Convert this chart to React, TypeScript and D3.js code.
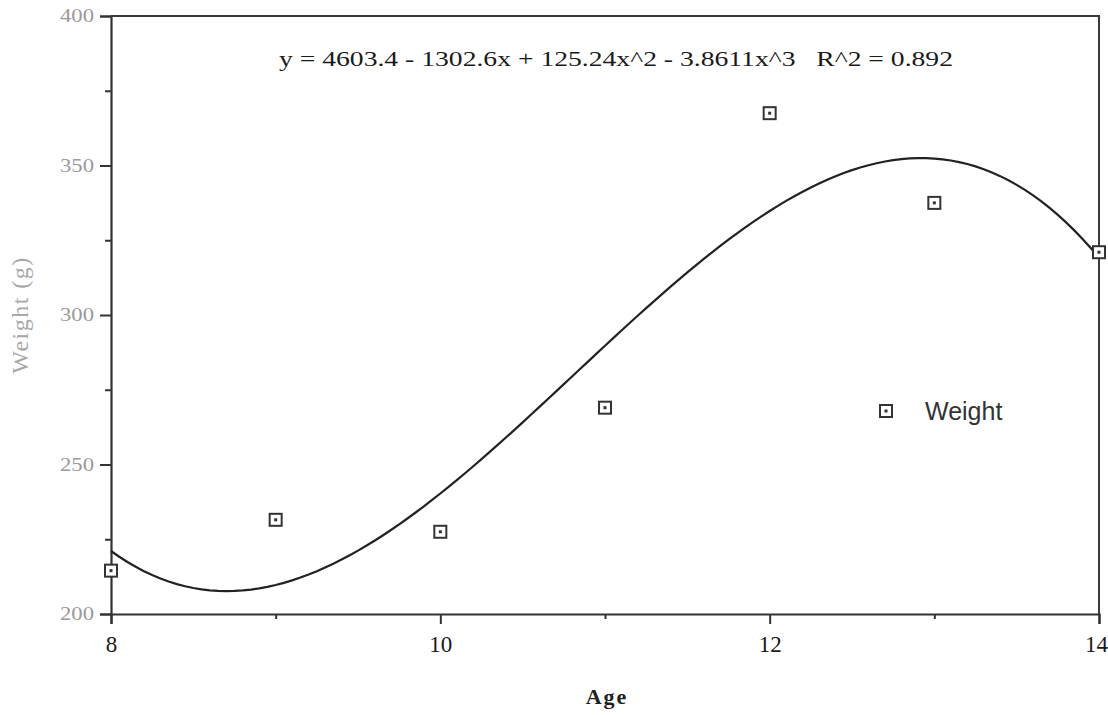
import React, { useEffect, useRef } from 'react';
import * as d3 from 'd3';

// observed points (age, weight in g)
const ages = [8, 9, 10, 11, 12, 13, 14];
const weights = [214.5, 231.5, 227.5, 269, 367.5, 337.5, 321];
// cubic trendline coefficients as printed on the chart: c0 + c1 x + c2 x^2 + c3 x^3
const fitCoefs = [4603.4, -1302.6, 125.24, -3.8611];
const yTicks = [200, 250, 300, 350, 400];
const yMinorTicks = [225, 275, 325, 375];
const xTicks = [8, 10, 12, 14];
const xMinorTicks = [9, 11, 13];
const equationText = 'y = 4603.4 - 1302.6x + 125.24x^2 - 3.8611x^3   R^2 = 0.892';

const App = () => {
  const svgRef = useRef<SVGSVGElement>(null);

  useEffect(() => {
    const svg = d3.select(svgRef.current);
    const width = 1108;
    const height = 715;
    const margin = { top: 16, right: 9, bottom: 101, left: 111 };

    svg.selectAll('*').remove();

    const x = d3.scaleLinear().domain([8, 14]).range([margin.left, width - margin.right]);
    const y = d3.scaleLinear().domain([200, 400]).range([height - margin.bottom, margin.top]);

    const serif = "'Liberation Serif', 'DejaVu Serif', serif";
    const sans = "'Liberation Sans', Arial, sans-serif";

    // frame: top and right edges
    svg.append('path')
      .attr('d', `M${x(8)},${y(400)}H${x(14)}V${y(200)}`)
      .attr('fill', 'none')
      .attr('stroke', '#3a3a3a')
      .attr('stroke-width', 2);

    // y axis
    const yAxis = svg.append('g').attr('transform', `translate(${x(8)},0)`);
    yAxis.call(d3.axisLeft(y).tickValues(yTicks).tickSize(11).tickPadding(6).tickFormat(d3.format('d')));
    yAxis.select('.domain').attr('stroke', '#333').attr('stroke-width', 2.2);
    yAxis.selectAll('.tick line').attr('stroke', '#333').attr('stroke-width', 2);
    yAxis.selectAll('.tick text')
      .attr('font-family', serif)
      .attr('font-size', 18)
      .attr('fill', '#9a9a9a')
      .attr('textLength', 34)
      .attr('lengthAdjust', 'spacingAndGlyphs');
    const yMinor = svg.append('g').attr('transform', `translate(${x(8)},0)`);
    yMinor.call(d3.axisLeft(y).tickValues(yMinorTicks).tickSize(6).tickFormat(() => ''));
    yMinor.select('.domain').remove();
    yMinor.selectAll('.tick line').attr('stroke', '#333').attr('stroke-width', 2);

    // x axis
    const xAxis = svg.append('g').attr('transform', `translate(0,${y(200)})`);
    xAxis.call(d3.axisBottom(x).tickValues(xTicks).tickSize(10).tickPadding(12).tickFormat(d3.format('d')));
    xAxis.select('.domain').attr('stroke', '#333').attr('stroke-width', 2.2);
    xAxis.selectAll('.tick line').attr('stroke', '#333').attr('stroke-width', 2);
    xAxis.selectAll('.tick text')
      .attr('font-family', serif)
      .attr('font-size', 23)
      .attr('fill', '#1a1a1a')
      .attr('dx', (d: any) => (d === 14 ? -3 : 0));
    const xMinor = svg.append('g').attr('transform', `translate(0,${y(200)})`);
    xMinor.call(d3.axisBottom(x).tickValues(xMinorTicks).tickSize(5).tickFormat(() => ''));
    xMinor.select('.domain').remove();
    xMinor.selectAll('.tick line').attr('stroke', '#333').attr('stroke-width', 2);

    // axis titles
    svg.append('text')
      .attr('x', 607)
      .attr('y', 704)
      .attr('text-anchor', 'middle')
      .attr('font-family', serif)
      .attr('font-size', 22)
      .attr('font-weight', 'bold')
      .attr('letter-spacing', 2)
      .attr('fill', '#222')
      .text('Age');

    svg.append('text')
      .attr('transform', `translate(28,${y(300)}) rotate(-90)`)
      .attr('text-anchor', 'middle')
      .attr('font-family', serif)
      .attr('font-size', 24)
      .attr('fill', '#a8a8a8')
      .attr('letter-spacing', 1.5)
      .text('Weight  (g)');

    // trendline from the printed coefficients
    const poly = (v: number) => fitCoefs.reduce((s, c, i) => s + c * Math.pow(v, i), 0);
    const samples = d3.range(8, 14.0001, 0.05);
    svg.append('path')
      .datum(samples)
      .attr('fill', 'none')
      .attr('stroke', '#222')
      .attr('stroke-width', 2.2)
      .attr('d', d3.line<number>().x(d => x(d)).y(d => y(poly(d))));

    // markers
    const pts = ages.map((a, i) => ({ a, w: weights[i] }));
    const mk = svg.append('g');
    mk.selectAll('rect.outer')
      .data(pts)
      .join('rect')
      .attr('class', 'outer')
      .attr('x', d => x(d.a) - 6)
      .attr('y', d => y(d.w) - 6)
      .attr('width', 12)
      .attr('height', 12)
      .attr('fill', '#fff')
      .attr('stroke', '#333')
      .attr('stroke-width', 2);
    mk.selectAll('rect.inner')
      .data(pts)
      .join('rect')
      .attr('class', 'inner')
      .attr('x', d => x(d.a) - 1.5)
      .attr('y', d => y(d.w) - 1.5)
      .attr('width', 3)
      .attr('height', 3)
      .attr('fill', '#333');

    // equation
    svg.append('text')
      .attr('x', 279)
      .attr('y', 66)
      .attr('font-family', serif)
      .attr('font-size', 22)
      .attr('fill', '#1a1a1a')
      .attr('textLength', 674)
      .attr('lengthAdjust', 'spacingAndGlyphs')
      .attr('xml:space', 'preserve')
      .style('white-space', 'pre')
      .text(equationText);

    // legend
    const lg = svg.append('g').attr('transform', 'translate(886,411)');
    lg.append('rect').attr('x', -6).attr('y', -6).attr('width', 12).attr('height', 12)
      .attr('fill', '#fff').attr('stroke', '#333').attr('stroke-width', 2);
    lg.append('rect').attr('x', -1.5).attr('y', -1.5).attr('width', 3).attr('height', 3).attr('fill', '#333');
    lg.append('text')
      .attr('x', 39)
      .attr('y', 9)
      .attr('font-family', sans)
      .attr('font-size', 25)
      .attr('fill', '#333')
      .text('Weight');
  }, []);

  return (
    <div style={{ position: 'absolute', left: 0, top: 0, background: '#fff' }}>
      <svg ref={svgRef} width={1108} height={715} style={{ display: 'block' }}></svg>
    </div>
  );
};

export default App;
